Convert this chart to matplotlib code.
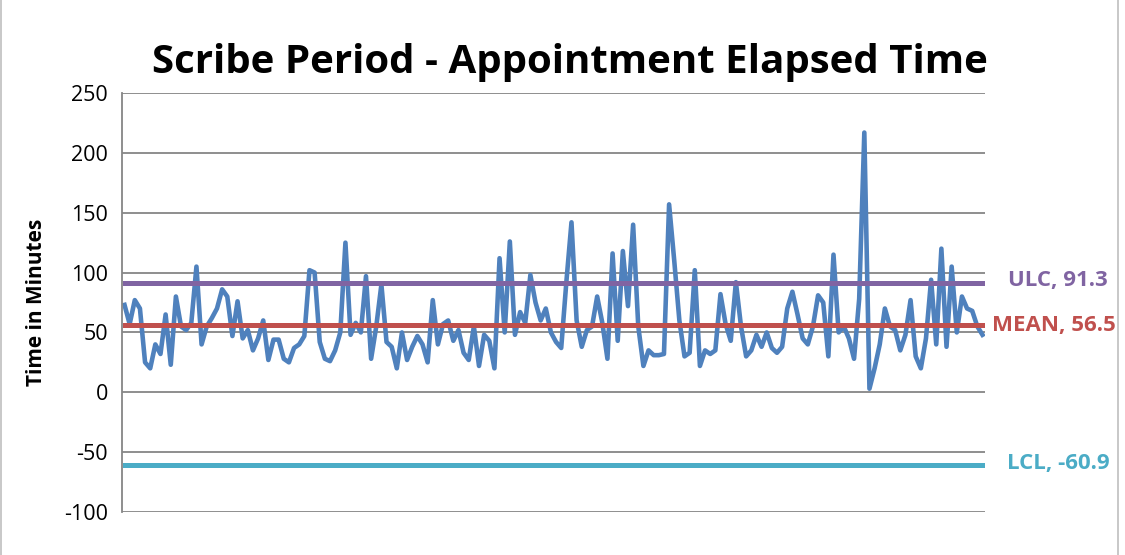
import matplotlib.pyplot as plt
from matplotlib.patches import Rectangle

plt.rcParams['font.family'] = ['Open Sans', 'DejaVu Sans']
plt.rcParams['axes.unicode_minus'] = False

elapsed = [73, 57, 77, 70, 25, 20, 40, 32, 65, 23, 80, 55, 52, 58, 105, 40, 55, 62, 70, 86,
           80, 47, 76, 45, 52, 35, 45, 60, 27, 44, 44, 28, 25, 37, 40, 47, 102, 100, 42, 28,
           26, 35, 50, 125, 48, 58, 50, 97, 28, 55, 90, 42, 38, 20, 50, 27, 38, 47, 40, 25,
           77, 40, 57, 60, 43, 52, 33, 27, 55, 22, 48, 43, 20, 112, 50, 126, 48, 67, 58, 98,
           75, 60, 70, 50, 42, 37, 92, 142, 60, 38, 52, 55, 80, 58, 28, 116, 43, 118, 72, 140,
           55, 22, 35, 31, 31, 32, 157, 110, 60, 30, 33, 102, 22, 35, 32, 35, 82, 57, 43, 92,
           55, 30, 35, 48, 38, 50, 37, 33, 38, 70, 84, 65, 45, 40, 55, 81, 75, 30, 115, 50,
           55, 45, 28, 78, 217, 3, 20, 40, 70, 55, 52, 35, 48, 77, 30, 20, 45, 94, 40, 120,
           38, 105, 50, 80, 70, 68, 55, 48]
mean_val = 56.5
ulc_val = 91.3
lcl_val = -60.9
yticks = [-100, -50, 0, 50, 100, 150, 200, 250]

fig = plt.figure(figsize=(11.25, 5.55), dpi=100)
ax = fig.add_axes([0.1084, 0.0775, 0.7672, 0.7549])

n = len(elapsed)
xs = range(n)
ax.plot(xs, elapsed, color='#4F81BD', lw=3.3, zorder=2, solid_joinstyle='round')
ax.plot([0, n - 1], [ulc_val, ulc_val], color='#8064A2', lw=3.6, zorder=3)
ax.plot([0, n - 1], [mean_val, mean_val], color='#C0504D', lw=3.6, zorder=3)
ax.plot([0, n - 1], [lcl_val, lcl_val], color='#4BACC6', lw=3.6, zorder=3)

ax.set_xlim(-0.5, n - 0.5)
ax.set_ylim(-100, 250)
ax.set_yticks(yticks)
ax.set_xticks([])
ax.tick_params(axis='y', length=0, labelsize=15.5, pad=10)
ax.yaxis.grid(True, color='#868686', lw=1.3, zorder=0)
ax.set_axisbelow(True)
for s in ['top', 'right', 'bottom']:
    ax.spines[s].set_visible(False)
ax.spines['left'].set_color('#868686')
ax.spines['left'].set_linewidth(1.3)

ax.set_ylabel('Time in Minutes', fontsize=15, fontweight='bold', labelpad=12)
fig.text(0.507, 0.888, 'Scribe Period - Appointment Elapsed Time', ha='center', va='center',
         fontsize=29, fontweight='bold')

fig.text(0.940, 0.494, 'ULC, 91.3', ha='center', va='center', fontsize=16,
         fontweight='bold', color='#8064A2')
fig.text(0.937, 0.413, 'MEAN, 56.5', ha='center', va='center', fontsize=16,
         fontweight='bold', color='#C0504D')
fig.text(0.941, 0.164, 'LCL, -60.9', ha='center', va='center', fontsize=16,
         fontweight='bold', color='#4BACC6')

fig.patches.append(Rectangle((0.001, -0.01), 0.993, 1.1, transform=fig.transFigure,
                             fill=False, edgecolor='#BFBFBF', lw=1.2))

fig.savefig('out.png', dpi=100)
